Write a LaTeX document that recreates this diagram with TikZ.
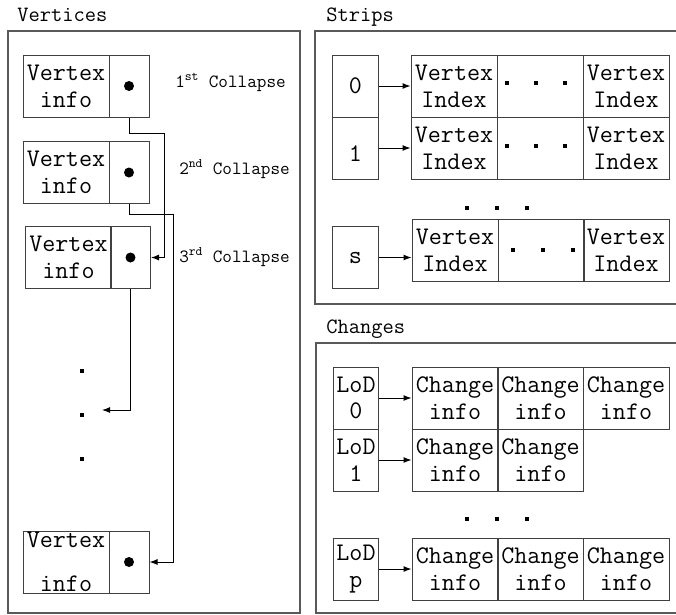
\documentclass[tikz,border=0pt]{standalone}
\usepackage{fontspec}
\usetikzlibrary{arrows.meta}

\begin{document}
\begin{tikzpicture}[x=0.75pt,y=-0.75pt,
  cell/.style={shape=rectangle,draw=black!75,line width=0.75pt,minimum width=64.5pt,minimum height=46.5pt,inner sep=0pt,align=center,font=\ttfamily\fontsize{19}{20}\selectfont},
  ptr/.style={shape=rectangle,draw=black!75,line width=0.75pt,minimum width=30pt,minimum height=46.5pt,inner sep=0pt},
  idx/.style={cell,minimum width=34pt},
  bul/.style={shape=circle,fill=black,minimum size=7.5pt,inner sep=0pt},
  ellip/.style={shape=rectangle,fill=black,minimum size=2.6pt,inner sep=0pt},
  frame/.style={draw=black!65,line width=0.9pt},
  title/.style={anchor=base west,inner sep=0pt,font=\ttfamily\fontsize{16.4}{18}\selectfont},
  lbl/.style={anchor=base west,inner sep=0pt,font=\ttfamily\fontsize{14}{16}\selectfont},
  arr/.style={-{Latex[length=6pt,width=4.5pt]},line width=0.75pt}]
\useasboundingbox (0,0) rectangle (676,615);

% frames
\draw[frame] (8,31) rectangle (300,613);
\draw[frame] (315,31) rectangle (690,304);
\draw[frame] (316,343) rectangle (690,613);
\node[title] (tv) at (17,21) {Vertices};
\node[title] (ts) at (326,21) {Strips};
\node[title] (tc) at (326,333) {Changes};

% vertices
\node[cell] (v1) at (66,86) {Vertex\\info};
\node[ptr] (p1) at (129,86) {};
\node[cell] (v2) at (66,172.5) {Vertex\\info};
\node[ptr] (p2) at (129,172.5) {};
\node[cell] (v3) at (68.5,257.5) {Vertex\\info};
\node[ptr] (p3) at (130.5,257.5) {};
\node[cell] (v4) at (66,562) {Vertex\\[13pt]info};
\node[ptr] (p4) at (129,562) {};
\node[bul] (b1) at (p1) {};
\node[bul] (b2) at (p2) {};
\node[bul] (b3) at (p3) {};
\node[bul] (b4) at (p4) {};
\node[ellip] (e1) at (82,371) {};
\node[ellip] (e2) at (82,415) {};
\node[ellip] (e3) at (82,459) {};
\coordinate (a3) at (102,410);
\node[lbl] (k1) at (175,87) {1\textsuperscript{st} Collapse};
\node[lbl] (k2) at (179,174) {2\textsuperscript{nd} Collapse};
\node[lbl] (k3) at (179,262) {3\textsuperscript{rd} Collapse};
\draw[arr] (p1.south) |- (164,133) |- (p3.east);
\draw[arr] (p2.south) |- (173,214) |- (p4.east);
\draw[arr] (p3.south) |- (a3);

% strips
\node[idx] (s0) at (355.5,86) {0};
\node[idx] (s1) at (355.5,148) {~\\1};
\node[idx] (ss) at (355.5,257.5) {s};
\node[cell] (r0a) at (454,86) {Vertex\\Index};
\node[cell] (r0b) at (540,86) {};
\node[cell] (r0c) at (626,86) {Vertex\\Index};
\node[cell] (r1a) at (454,148) {Vertex\\Index};
\node[cell] (r1b) at (540,148) {};
\node[cell] (r1c) at (626,148) {Vertex\\Index};
\node[cell] (rsa) at (455,250.5) {Vertex\\Index};
\node[cell] (rsb) at (541,250.5) {};
\node[cell] (rsc) at (626,250.5) {Vertex\\Index};
\foreach \x in {507,536,565} {
  \node[ellip] (d0\x) at (\x,83) {};
  \node[ellip] (d1\x) at (\x,146) {};
}
\foreach \x in {513,543,573} \node[ellip] (ds\x) at (\x,250) {};
\foreach \x in {467,497,527} \node[ellip] (dr\x) at (\x,208) {};
\path [arr] (s0) edge (r0a);
\path [arr] (s1) edge (r1a);
\path [arr] (ss.east) edge (rsa.west |- ss.east);

% changes
\node[idx] (l0) at (356,398) {LoD\\0};
\node[idx] (l1) at (356,460) {LoD\\1};
\node[idx] (lp) at (356,569) {LoD\\p};
\node[cell] (c0a) at (455,398) {Change\\info};
\node[cell] (c0b) at (540.5,398) {Change\\info};
\node[cell] (c0c) at (626,398) {Change\\info};
\node[cell] (c1a) at (455,460) {Change\\info};
\node[cell] (c1b) at (540.5,460) {Change\\info};
\node[cell] (cpa) at (455,569) {Change\\info};
\node[cell] (cpb) at (540.5,569) {Change\\info};
\node[cell] (cpc) at (626,569) {Change\\info};
\foreach \x in {467,497,527} \node[ellip] (dc\x) at (\x,519) {};
\path [arr] (l0) edge (c0a);
\path [arr] (l1) edge (c1a);
\path [arr] (lp) edge (cpa);
\end{tikzpicture}
\end{document}
